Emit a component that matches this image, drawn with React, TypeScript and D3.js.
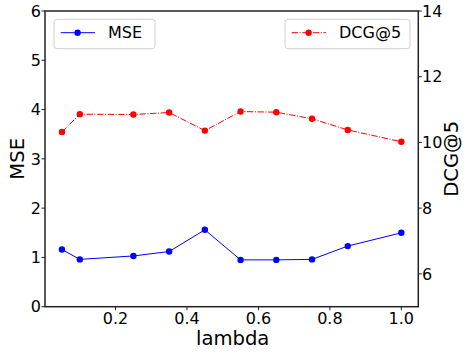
import React, { useRef, useEffect } from 'react';
import * as d3 from 'd3';

const lambdas = [0.05, 0.1, 0.25, 0.35, 0.45, 0.55, 0.65, 0.75, 0.85, 1.0];
const mseValues = [1.16, 0.96, 1.03, 1.12, 1.56, 0.95, 0.95, 0.96, 1.23, 1.5];
const dcgValues = [10.32, 10.86, 10.85, 10.91, 10.36, 10.94, 10.92, 10.72, 10.38, 10.02];
const xTicks = [0.2, 0.4, 0.6, 0.8, 1.0];
const mseTicks = [0, 1, 2, 3, 4, 5, 6];
const dcgTicks = [6, 8, 10, 12, 14];

const App = () => {
    const ref = useRef<SVGSVGElement>(null);

    useEffect(() => {
        const width = 466;
        const height = 354;
        const left = 45, right = 418.3, top = 11, bottom = 306.7;
        const font = 'DejaVu Sans, sans-serif';
        const axisColor = '#222';

        const svg = d3.select(ref.current)
            .attr('width', width)
            .attr('height', height);
        svg.selectAll('*').remove();

        const x = d3.scaleLinear().domain([0.0025, 1.0475]).range([left, right]);
        const yL = d3.scaleLinear().domain([0, 6]).range([bottom, top]);
        const yR = d3.scaleLinear().domain([5, 14]).range([bottom, top]);

        svg.append('rect').attr('width', width).attr('height', height).attr('fill', 'white');

        // Lines
        const mseLine = d3.line<number>().x((d, i) => x(lambdas[i])).y(d => yL(d));
        const dcgLine = d3.line<number>().x((d, i) => x(lambdas[i])).y(d => yR(d));

        svg.append('path')
            .attr('d', mseLine(mseValues))
            .attr('fill', 'none')
            .attr('stroke', 'blue')
            .attr('stroke-width', 1);
        svg.selectAll('.mse-pt')
            .data(mseValues)
            .enter().append('circle')
            .attr('cx', (d, i) => x(lambdas[i]))
            .attr('cy', d => yL(d))
            .attr('r', 3.2)
            .attr('fill', 'blue');

        svg.append('path')
            .attr('d', dcgLine(dcgValues))
            .attr('fill', 'none')
            .attr('stroke', 'red')
            .attr('stroke-width', 1)
            .attr('stroke-dasharray', '6.4,1.6,1,1.6');
        svg.selectAll('.dcg-pt')
            .data(dcgValues)
            .enter().append('circle')
            .attr('cx', (d, i) => x(lambdas[i]))
            .attr('cy', d => yR(d))
            .attr('r', 3.2)
            .attr('fill', 'red');

        // Frame
        svg.append('rect')
            .attr('x', left).attr('y', top)
            .attr('width', right - left).attr('height', bottom - top)
            .attr('fill', 'none')
            .attr('stroke', axisColor)
            .attr('stroke-width', 1.5);

        // X ticks
        xTicks.forEach(t => {
            svg.append('line')
                .attr('x1', x(t)).attr('x2', x(t))
                .attr('y1', bottom).attr('y2', bottom + 3.5)
                .attr('stroke', axisColor).attr('stroke-width', 1);
            svg.append('text')
                .attr('x', x(t)).attr('y', 324)
                .attr('text-anchor', 'middle')
                .style('font-family', font).style('font-size', '16px')
                .text(t.toFixed(1));
        });

        // Left ticks
        mseTicks.forEach(t => {
            svg.append('line')
                .attr('x1', left - 3.5).attr('x2', left)
                .attr('y1', yL(t)).attr('y2', yL(t))
                .attr('stroke', axisColor).attr('stroke-width', 1);
            svg.append('text')
                .attr('x', 41).attr('y', yL(t))
                .attr('dy', '0.36em')
                .attr('text-anchor', 'end')
                .style('font-family', font).style('font-size', '16px')
                .text(t);
        });

        // Right ticks
        dcgTicks.forEach(t => {
            svg.append('line')
                .attr('x1', right).attr('x2', right + 3.5)
                .attr('y1', yR(t)).attr('y2', yR(t))
                .attr('stroke', axisColor).attr('stroke-width', 1);
            svg.append('text')
                .attr('x', 422).attr('y', yR(t))
                .attr('dy', '0.36em')
                .attr('text-anchor', 'start')
                .style('font-family', font).style('font-size', '16px')
                .text(t);
        });

        // Axis labels
        svg.append('text')
            .attr('x', (left + right) / 2 + 1).attr('y', 345)
            .attr('text-anchor', 'middle')
            .style('font-family', font).style('font-size', '19.6px')
            .text('lambda');
        svg.append('text')
            .attr('transform', `translate(24, ${(top + bottom) / 2}) rotate(-90)`)
            .attr('text-anchor', 'middle')
            .style('font-family', font).style('font-size', '19.6px')
            .text('MSE');
        svg.append('text')
            .attr('transform', `translate(458, ${(top + bottom) / 2}) rotate(-90)`)
            .attr('text-anchor', 'middle')
            .style('font-family', font).style('font-size', '19.6px')
            .text('DCG@5');

        // Legends
        const legends = [
            { label: 'MSE', color: 'blue', dash: null, bx: 54, bw: 101 },
            { label: 'DCG@5', color: 'red', dash: '6.4,1.6,1,1.6', bx: 285, bw: 125 },
        ];
        legends.forEach(l => {
            const g = svg.append('g').attr('transform', `translate(${l.bx}, 19.3)`);
            g.append('rect')
                .attr('width', l.bw).attr('height', 29.4)
                .attr('rx', 3)
                .attr('fill', 'white').attr('fill-opacity', 0.8)
                .attr('stroke', '#d0d0d0').attr('stroke-width', 1);
            const ln = g.append('line')
                .attr('x1', 6.7).attr('x2', 41)
                .attr('y1', 13.4).attr('y2', 13.4)
                .attr('stroke', l.color).attr('stroke-width', 1);
            if (l.dash) ln.attr('stroke-dasharray', l.dash);
            g.append('circle')
                .attr('cx', 23.6).attr('cy', 13.4).attr('r', 3.2)
                .attr('fill', l.color);
            g.append('text')
                .attr('x', 54).attr('y', 13.4)
                .attr('dy', '0.36em')
                .style('font-family', font).style('font-size', '16px')
                .text(l.label);
        });
    }, []);

    return <svg ref={ref} style={{ position: 'absolute', left: 0, top: 0 }}></svg>;
};

export default App;
